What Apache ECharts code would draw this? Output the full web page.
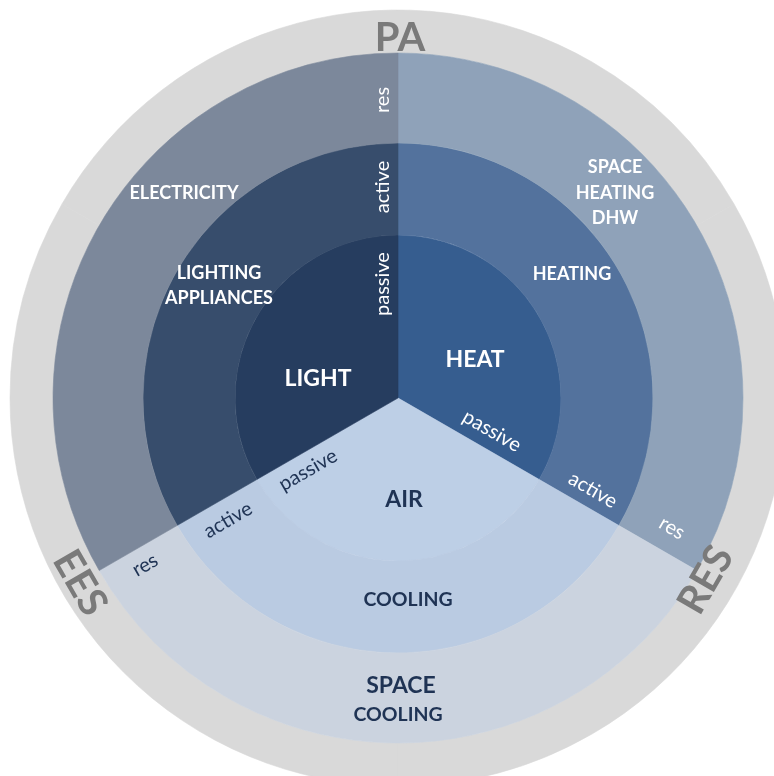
<!DOCTYPE html>
<html>
<head>
<meta charset="utf-8">
<script src="https://cdn.jsdelivr.net/npm/echarts@6/dist/echarts.min.js"></script>
<style>
  html, body { margin: 0; padding: 0; background: #fff; }
  #main { width: 774px; height: 776px; }
</style>
</head>
<body>
<div id="main"></div>
<script>
// rings, clockwise from 12 o'clock: HEAT, AIR, LIGHT (equal thirds)
const sectorNames = ['HEAT', 'AIR', 'LIGHT']
const sectorShare = [1, 1, 1]
const systemNames = ['HEATING', 'COOLING', 'LIGHTING\nAPPLIANCES']
const serviceNames = ['SPACE\nHEATING\nDHW', 'SPACE\nCOOLING', 'ELECTRICITY']
const frameNames = ['RES', 'EES', 'PA']
const tierNames = ['passive', 'active', 'res']

const cx = 398
const cy = 398

const innerColors = ['#365d8f', '#bdcfe6', '#263d5f']
const middleColors = ['#53729d', '#bacbe2', '#374d6c']
const outerColors = ['#8fa2b9', '#cbd3df', '#7c889b']
const frameColor = '#d9d9d9'

const makeRing = (names, colors, r0, r1, startAngle) => ({
    type: 'pie',
    center: [cx, cy],
    radius: [r0, r1],
    startAngle: startAngle,
    clockwise: true,
    silent: true,
    animation: false,
    label: { show: false },
    labelLine: { show: false },
    emphasis: { disabled: true },
    data: names.map((n, i) => ({
        name: n,
        value: sectorShare[i],
        itemStyle: { color: colors[i], borderColor: colors[i], borderWidth: 0.6 }
    }))
})

const txt = (text, x, y, font, fill, rotation, lineHeight) => ({
    type: 'text',
    x: x,
    y: y,
    z: 100,
    rotation: rotation || 0,
    silent: true,
    style: {
        text: text,
        font: font,
        fill: fill,
        lineHeight: lineHeight || null,
        align: 'center',
        verticalAlign: 'middle',
        textAlign: 'center',
        textVerticalAlign: 'middle'
    }
})

const white = '#ffffff'
const navy = '#1f3354'
const grey = '#7a7a7a'
const big = 'bold 23px Lato'
const mid = 'bold 18px Lato'
const cool = 'bold 19.5px Lato'
const small = '20px Lato'
const frameFont = 'bold 40px Lato'
const deg = Math.PI / 180
const coolingLines = serviceNames[1].split('\n')

const graphics = [
    // outer frame
    txt(frameNames[2], 400, 38, frameFont, grey),
    txt(frameNames[1], 80, 583, frameFont, grey, -60 * deg),
    txt(frameNames[0], 706, 580, frameFont, grey, 60 * deg),
    // sectors
    txt(sectorNames[0], 475, 360, big, white),
    txt(sectorNames[1], 404, 500, big, navy),
    txt(sectorNames[2], 318, 379, big, white),
    // systems
    txt(systemNames[0], 572, 274, mid, white),
    txt(systemNames[1], 408, 600, cool, navy),
    txt(systemNames[2], 219, 286, mid, white, 0, 25),
    // services
    txt(serviceNames[0], 615, 193, mid, white, 0, 25.5),
    txt(coolingLines[0], 401, 686, big, navy),
    txt(coolingLines[1], 398, 715, cool, navy),
    txt(serviceNames[2], 184, 193, mid, white),
    // tiers along the top divider
    txt(tierNames[0], 383, 284, small, white, 90 * deg),
    txt(tierNames[1], 383, 187, small, white, 90 * deg),
    txt(tierNames[2], 383, 100, small, white, 90 * deg),
    // tiers along the right divider
    txt(tierNames[0], 492, 431, small, white, -30 * deg),
    txt(tierNames[1], 593, 490, small, white, -30 * deg),
    txt(tierNames[2], 672, 528, small, white, -30 * deg),
    // tiers along the left divider
    txt(tierNames[0], 308, 470, small, navy, 30 * deg),
    txt(tierNames[1], 228, 520, small, navy, 30 * deg),
    txt(tierNames[2], 145, 565, small, navy, 30 * deg)
]

const chart = echarts.init(document.getElementById('main'))
chart.setOption({
    backgroundColor: '#ffffff',
    animation: false,
    series: [
        makeRing(frameNames, [frameColor, frameColor, frameColor], 345, 388, 150),
        makeRing(sectorNames, innerColors, 0, 163, 90),
        makeRing(sectorNames, middleColors, 163, 255, 90),
        makeRing(sectorNames, outerColors, 255, 345, 90)
    ],
    graphic: { elements: graphics }
})
</script>
</body>
</html>
